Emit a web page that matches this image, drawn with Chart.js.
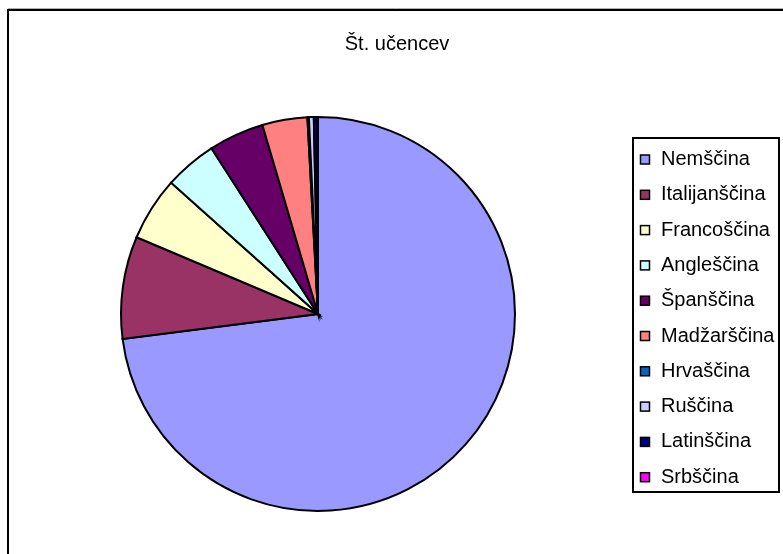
<!DOCTYPE html>
<html>
<head>
<meta charset="utf-8">
<script src="https://cdn.jsdelivr.net/npm/chart.js@4.4.1/dist/chart.umd.min.js"></script>
<style>
    html, body { margin: 0; padding: 0; background: #fff; }
    #wrap { width: 783px; height: 554px; position: relative; }
</style>
</head>
<body>
<div id="wrap"><canvas id="ucenciChart" width="783" height="554"></canvas></div>
<script>
const chartTitle = "Št. učencev";
const jeziki = ["Nemščina", "Italijanščina", "Francoščina", "Angleščina", "Španščina", "Madžarščina", "Hrvaščina", "Ruščina", "Latinščina", "Srbščina"];
const stUcencev = [7310, 840, 525, 430, 455, 370, 12, 40, 30, 4];
const barve = ["#9999FF", "#993366", "#FFFFCC", "#CCFFFF", "#660066", "#FF8080", "#0066CC", "#CCCCFF", "#000080", "#FF00FF"];

const FONT = "'Liberation Sans', Arial, sans-serif";

// frame, title and the boxed legend in the old spreadsheet style
const frameAndLegend = {
    id: "frameAndLegend",
    afterDraw(chart) {
        const { ctx } = chart;
        ctx.save();

        ctx.strokeStyle = "#b0b0b0";
        ctx.lineWidth = 1;
        ctx.beginPath();
        ctx.moveTo(8, 8.5);
        ctx.lineTo(783, 8.5);
        ctx.stroke();

        ctx.strokeStyle = "#000";
        ctx.lineWidth = 2;
        ctx.beginPath();
        ctx.moveTo(8, 560);
        ctx.lineTo(8, 10);
        ctx.lineTo(790, 10);
        ctx.stroke();

        ctx.fillStyle = "#000";
        ctx.textAlign = "center";
        ctx.textBaseline = "middle";
        ctx.font = "20px " + FONT;
        ctx.fillText(chartTitle, 397, 44);

        ctx.lineWidth = 2;
        ctx.strokeRect(633, 138, 146, 354);

        ctx.textAlign = "left";
        ctx.font = "20px " + FONT;
        jeziki.forEach((label, i) => {
            const y = 159.5 + i * 35.3;
            ctx.fillStyle = barve[i];
            ctx.fillRect(640.5, y - 4.5, 9, 9);
            ctx.strokeStyle = "#000";
            ctx.lineWidth = 1.5;
            ctx.strokeRect(640.5, y - 4.5, 9, 9);
            ctx.fillStyle = "#000";
            ctx.fillText(label, 661, y);
        });

        ctx.restore();
    }
};

new Chart(document.getElementById("ucenciChart"), {
    type: "pie",
    data: {
        labels: jeziki,
        datasets: [{
            data: stUcencev,
            backgroundColor: barve,
            borderColor: "#000",
            borderWidth: 2,
            borderJoinStyle: "miter"
        }]
    },
    options: {
        responsive: false,
        animation: false,
        layout: { padding: { left: 120, top: 116, right: 267, bottom: 42 } },
        plugins: {
            legend: { display: false },
            title: { display: false },
            tooltip: { enabled: false }
        }
    },
    plugins: [frameAndLegend]
});
</script>
</body>
</html>
